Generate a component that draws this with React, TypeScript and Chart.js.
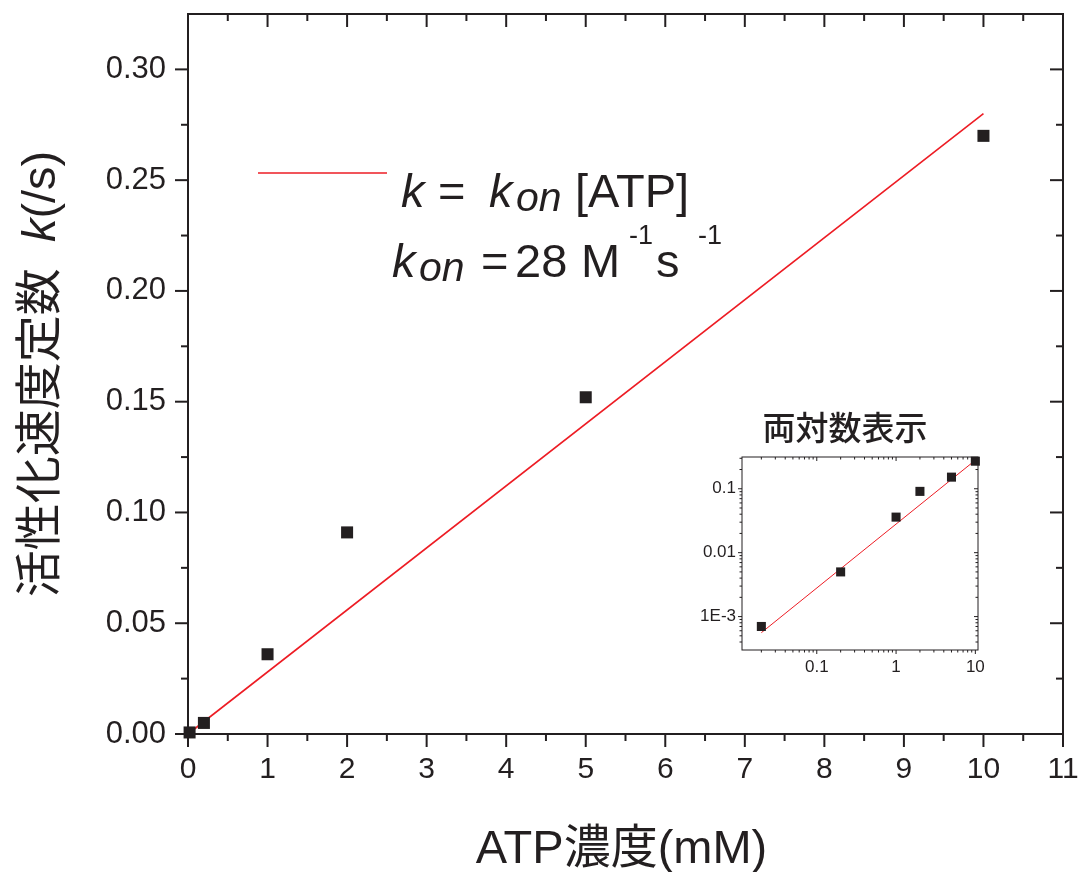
import React, { useEffect, useRef } from 'react';
import { Chart, registerables } from 'chart.js';

Chart.register(...registerables);

// ATP concentration (mM) and measured activation rate constant k (/s)
const ATP_MM = [0.02, 0.2, 1, 2, 5, 10];
const K_RATE = [0.0007, 0.005, 0.036, 0.091, 0.152, 0.27];

// Linear fit k = kon [ATP], kon in M^-1 s^-1
const KON = 28;
const FIT_X_MAIN = [0, 10];
const FIT_X_LOG = [0.02, 10];

// Axis ticks of the main plot
const X_TICKS = [0, 1, 2, 3, 4, 5, 6, 7, 8, 9, 10, 11];
const X_MINOR = [0.5, 1.5, 2.5, 3.5, 4.5, 5.5, 6.5, 7.5, 8.5, 9.5, 10.5];
const Y_TICKS = [0, 0.05, 0.1, 0.15, 0.2, 0.25, 0.3];
const Y_MINOR = [0.025, 0.075, 0.125, 0.175, 0.225, 0.275];

// Axis ticks of the log-log inset
const LOG_X_TICKS = [0.1, 1, 10];
const LOG_X_LABELS = ['0.1', '1', '10'];
const LOG_Y_TICKS = [0.001, 0.01, 0.1];
const LOG_Y_LABELS = ['1E-3', '0.01', '0.1'];

const INK = '#231f20';
const RED = '#ed1c24';
const SANS = '"Liberation Sans", Arial, Helvetica, sans-serif';
const MIXED = '"Liberation Sans", "Noto Sans CJK JP", sans-serif';
const CJK = '"Noto Sans CJK JP", sans-serif';

// [ATP] in mM, so kon is scaled from M^-1 to mM^-1
const fitK = (x: number) => (KON / 1000) * x;

const points = ATP_MM.map((x, i) => ({ x, y: K_RATE[i] }));

// minor log ticks (2..9 x 10^n) inside a range
function logMinors(min: number, max: number) {
  const out: number[] = [];
  for (let e = Math.floor(Math.log10(min)); e <= Math.ceil(Math.log10(max)); e++) {
    for (let m = 2; m <= 9; m++) {
      const v = m * Math.pow(10, e);
      if (v > min && v < max) out.push(v);
    }
  }
  return out;
}

type FrameSpec = {
  lw: number;
  major: number;
  minor: number;
  xMajor: number[];
  xMinor: number[];
  yMajor: number[];
  yMinor: number[];
};

// box frame: ticks outward on the left/bottom, inward on the top/right
function frame(spec: FrameSpec) {
  return {
    id: 'frame',
    beforeDatasetsDraw(chart: any) {
      const { ctx, chartArea: a, scales } = chart;
      const xs = scales.x;
      const ys = scales.y;
      ctx.save();
      ctx.strokeStyle = INK;
      ctx.lineWidth = spec.lw;
      ctx.strokeRect(a.left, a.top, a.right - a.left, a.bottom - a.top);
      const seg = (x1: number, y1: number, x2: number, y2: number) => {
        ctx.beginPath();
        ctx.moveTo(x1, y1);
        ctx.lineTo(x2, y2);
        ctx.stroke();
      };
      const sets: [number[], number][] = [
        [spec.xMajor, spec.major],
        [spec.xMinor, spec.minor],
      ];
      for (const [vals, len] of sets) {
        for (const v of vals) {
          const px = xs.getPixelForValue(v);
          if (px < a.left - 0.5 || px > a.right + 0.5) continue;
          seg(px, a.bottom, px, a.bottom + len);
          seg(px, a.top, px, a.top + len);
        }
      }
      const ysets: [number[], number][] = [
        [spec.yMajor, spec.major],
        [spec.yMinor, spec.minor],
      ];
      for (const [vals, len] of ysets) {
        for (const v of vals) {
          const py = ys.getPixelForValue(v);
          if (py < a.top - 0.5 || py > a.bottom + 0.5) continue;
          seg(a.left, py, a.left - len, py);
          seg(a.right, py, a.right - len, py);
        }
      }
      ctx.restore();
    },
  };
}

const mainText = {
  id: 'mainText',
  afterDraw(chart: any) {
    const { ctx, chartArea: a } = chart;
    ctx.save();
    ctx.fillStyle = INK;
    ctx.textBaseline = 'alphabetic';
    ctx.textAlign = 'left';

    // legend entry for the fit line
    ctx.strokeStyle = RED;
    ctx.lineWidth = 1.6;
    ctx.beginPath();
    ctx.moveTo(258, 173);
    ctx.lineTo(387, 173);
    ctx.stroke();

    const put = (t: string, x: number, y: number, font: string) => {
      ctx.font = font;
      ctx.fillText(t, x, y);
    };
    const it = (s: number) => `italic ${s}px ${SANS}`;
    const rg = (s: number) => `${s}px ${SANS}`;
    put('k', 401, 207, it(47));
    put('=', 438, 207, rg(47));
    put('k', 489, 207, it(47));
    put('on', 516, 211, it(41));
    put('[ATP]', 575, 207, rg(47));

    put('k', 392, 277, it(47));
    put('on', 419, 281, it(41));
    put('=', 481, 277, rg(47));
    put('28', 515, 277, rg(47));
    put('M', 581, 277, rg(47));
    put('-1', 629, 244, rg(27));
    put('s', 656, 277, rg(47));
    put('-1', 698, 244, rg(27));

    // x axis title
    ctx.textAlign = 'center';
    ctx.font = `47px ${MIXED}`;
    ctx.fillText('ATP濃度(mM)', (a.left + a.right) / 2 - 4, 863);

    // y axis title, rotated
    ctx.translate(55, (a.top + a.bottom) / 2);
    ctx.rotate(-Math.PI / 2);
    ctx.textAlign = 'left';
    const parts = [
      { t: '活性化速度定数', f: `47px ${CJK}` },
      { t: '  ', f: rg(47) },
      { t: 'k', f: it(47) },
      { t: '(/s)', f: rg(47) },
    ];
    let total = 0;
    const widths = parts.map((p) => {
      ctx.font = p.f;
      const w = ctx.measureText(p.t).width;
      total += w;
      return w;
    });
    let x = -total / 2;
    parts.forEach((p, i) => {
      ctx.font = p.f;
      ctx.fillText(p.t, x, 0);
      x += widths[i];
    });
    ctx.restore();
  },
};

const insetText = {
  id: 'insetText',
  afterDraw(chart: any) {
    const { ctx } = chart;
    ctx.save();
    ctx.fillStyle = INK;
    ctx.textAlign = 'center';
    ctx.textBaseline = 'alphabetic';
    ctx.font = `500 33px ${CJK}`;
    ctx.fillText('両対数表示', 155, 40);
    ctx.restore();
  },
};

const noPad = (s: any) => {
  s.paddingTop = 0;
  s.paddingBottom = 0;
  s.paddingLeft = 0;
  s.paddingRight = 0;
};

function mainConfig(): any {
  return {
    type: 'scatter',
    data: {
      datasets: [
        {
          data: FIT_X_MAIN.map((x) => ({ x, y: fitK(x) })),
          showLine: true,
          borderColor: RED,
          borderWidth: 1.6,
          pointRadius: 0,
          clip: false,
          order: 2,
        },
        {
          data: points,
          pointStyle: 'rect',
          pointRadius: 8.5,
          backgroundColor: INK,
          borderWidth: 0,
          clip: false,
          order: 1,
        },
      ],
    },
    options: {
      animation: false,
      responsive: false,
      events: [],
      layout: { padding: { top: 14, right: 15, left: 0, bottom: 0 } },
      plugins: { legend: { display: false }, tooltip: { enabled: false }, title: { display: false } },
      scales: {
        x: {
          type: 'linear',
          min: 0,
          max: 11,
          afterBuildTicks: (s: any) => {
            s.ticks = X_TICKS.map((value) => ({ value }));
          },
          afterFit: (s: any) => {
            s.height = 138;
            noPad(s);
          },
          grid: { display: false, drawTicks: false },
          border: { display: false },
          ticks: {
            color: INK,
            font: { family: SANS, size: 30 },
            padding: 18,
            autoSkip: false,
            maxRotation: 0,
            callback: (v: any) => String(v),
          },
        },
        y: {
          type: 'linear',
          min: 0,
          max: 0.325,
          afterBuildTicks: (s: any) => {
            s.ticks = Y_TICKS.map((value) => ({ value }));
          },
          afterFit: (s: any) => {
            s.width = 188;
            noPad(s);
          },
          grid: { display: false, drawTicks: false },
          border: { display: false },
          ticks: {
            color: INK,
            font: { family: SANS, size: 31 },
            padding: 22,
            autoSkip: false,
            callback: (v: any) => Number(v).toFixed(2),
          },
        },
      },
    },
    plugins: [
      frame({ lw: 2, major: 13, minor: 7, xMajor: X_TICKS, xMinor: X_MINOR, yMajor: Y_TICKS, yMinor: Y_MINOR }),
      mainText,
    ],
  };
}

function insetConfig(): any {
  const xMin = 0.0114;
  const xMax = 10.8;
  const yMin = 0.000334;
  const yMax = 0.314;
  return {
    type: 'scatter',
    data: {
      datasets: [
        {
          data: FIT_X_LOG.map((x) => ({ x, y: fitK(x) })),
          showLine: true,
          borderColor: RED,
          borderWidth: 1,
          pointRadius: 0,
          clip: false,
          order: 2,
        },
        {
          data: points,
          pointStyle: 'rect',
          pointRadius: 6.4,
          backgroundColor: INK,
          borderWidth: 0,
          clip: false,
          order: 1,
        },
      ],
    },
    options: {
      animation: false,
      responsive: false,
      events: [],
      layout: { padding: { top: 57, right: 22, left: 0, bottom: 0 } },
      plugins: { legend: { display: false }, tooltip: { enabled: false }, title: { display: false } },
      scales: {
        x: {
          type: 'logarithmic',
          min: xMin,
          max: xMax,
          afterBuildTicks: (s: any) => {
            s.ticks = LOG_X_TICKS.map((value) => ({ value }));
          },
          afterFit: (s: any) => {
            s.height = 40;
            noPad(s);
          },
          grid: { display: false, drawTicks: false },
          border: { display: false },
          ticks: {
            color: INK,
            font: { family: SANS, size: 17 },
            padding: 7,
            autoSkip: false,
            maxRotation: 0,
            callback: (_v: any, i: number) => LOG_X_LABELS[i],
          },
        },
        y: {
          type: 'logarithmic',
          min: yMin,
          max: yMax,
          afterBuildTicks: (s: any) => {
            s.ticks = LOG_Y_TICKS.map((value) => ({ value }));
          },
          afterFit: (s: any) => {
            s.width = 52;
            noPad(s);
          },
          grid: { display: false, drawTicks: false },
          border: { display: false },
          ticks: {
            color: INK,
            font: { family: SANS, size: 17 },
            padding: 6,
            autoSkip: false,
            callback: (_v: any, i: number) => LOG_Y_LABELS[i],
          },
        },
      },
    },
    plugins: [
      frame({
        lw: 1,
        major: 4,
        minor: 2.5,
        xMajor: LOG_X_TICKS,
        xMinor: logMinors(xMin, xMax),
        yMajor: LOG_Y_TICKS,
        yMinor: logMinors(yMin, yMax),
      }),
      insetText,
    ],
  };
}

export default function App() {
  const mainRef = useRef<HTMLCanvasElement>(null);
  const insetRef = useRef<HTMLCanvasElement>(null);

  useEffect(() => {
    const main = new Chart(mainRef.current as HTMLCanvasElement, mainConfig());
    const inset = new Chart(insetRef.current as HTMLCanvasElement, insetConfig());
    return () => {
      main.destroy();
      inset.destroy();
    };
  }, []);

  return (
    <div style={{ position: 'absolute', left: 0, top: 0, width: 1078, height: 872, background: '#ffffff' }}>
      <canvas ref={mainRef} width={1078} height={872} style={{ position: 'absolute', left: 0, top: 0 }} />
      <canvas ref={insetRef} width={310} height={290} style={{ position: 'absolute', left: 690, top: 400 }} />
    </div>
  );
}
